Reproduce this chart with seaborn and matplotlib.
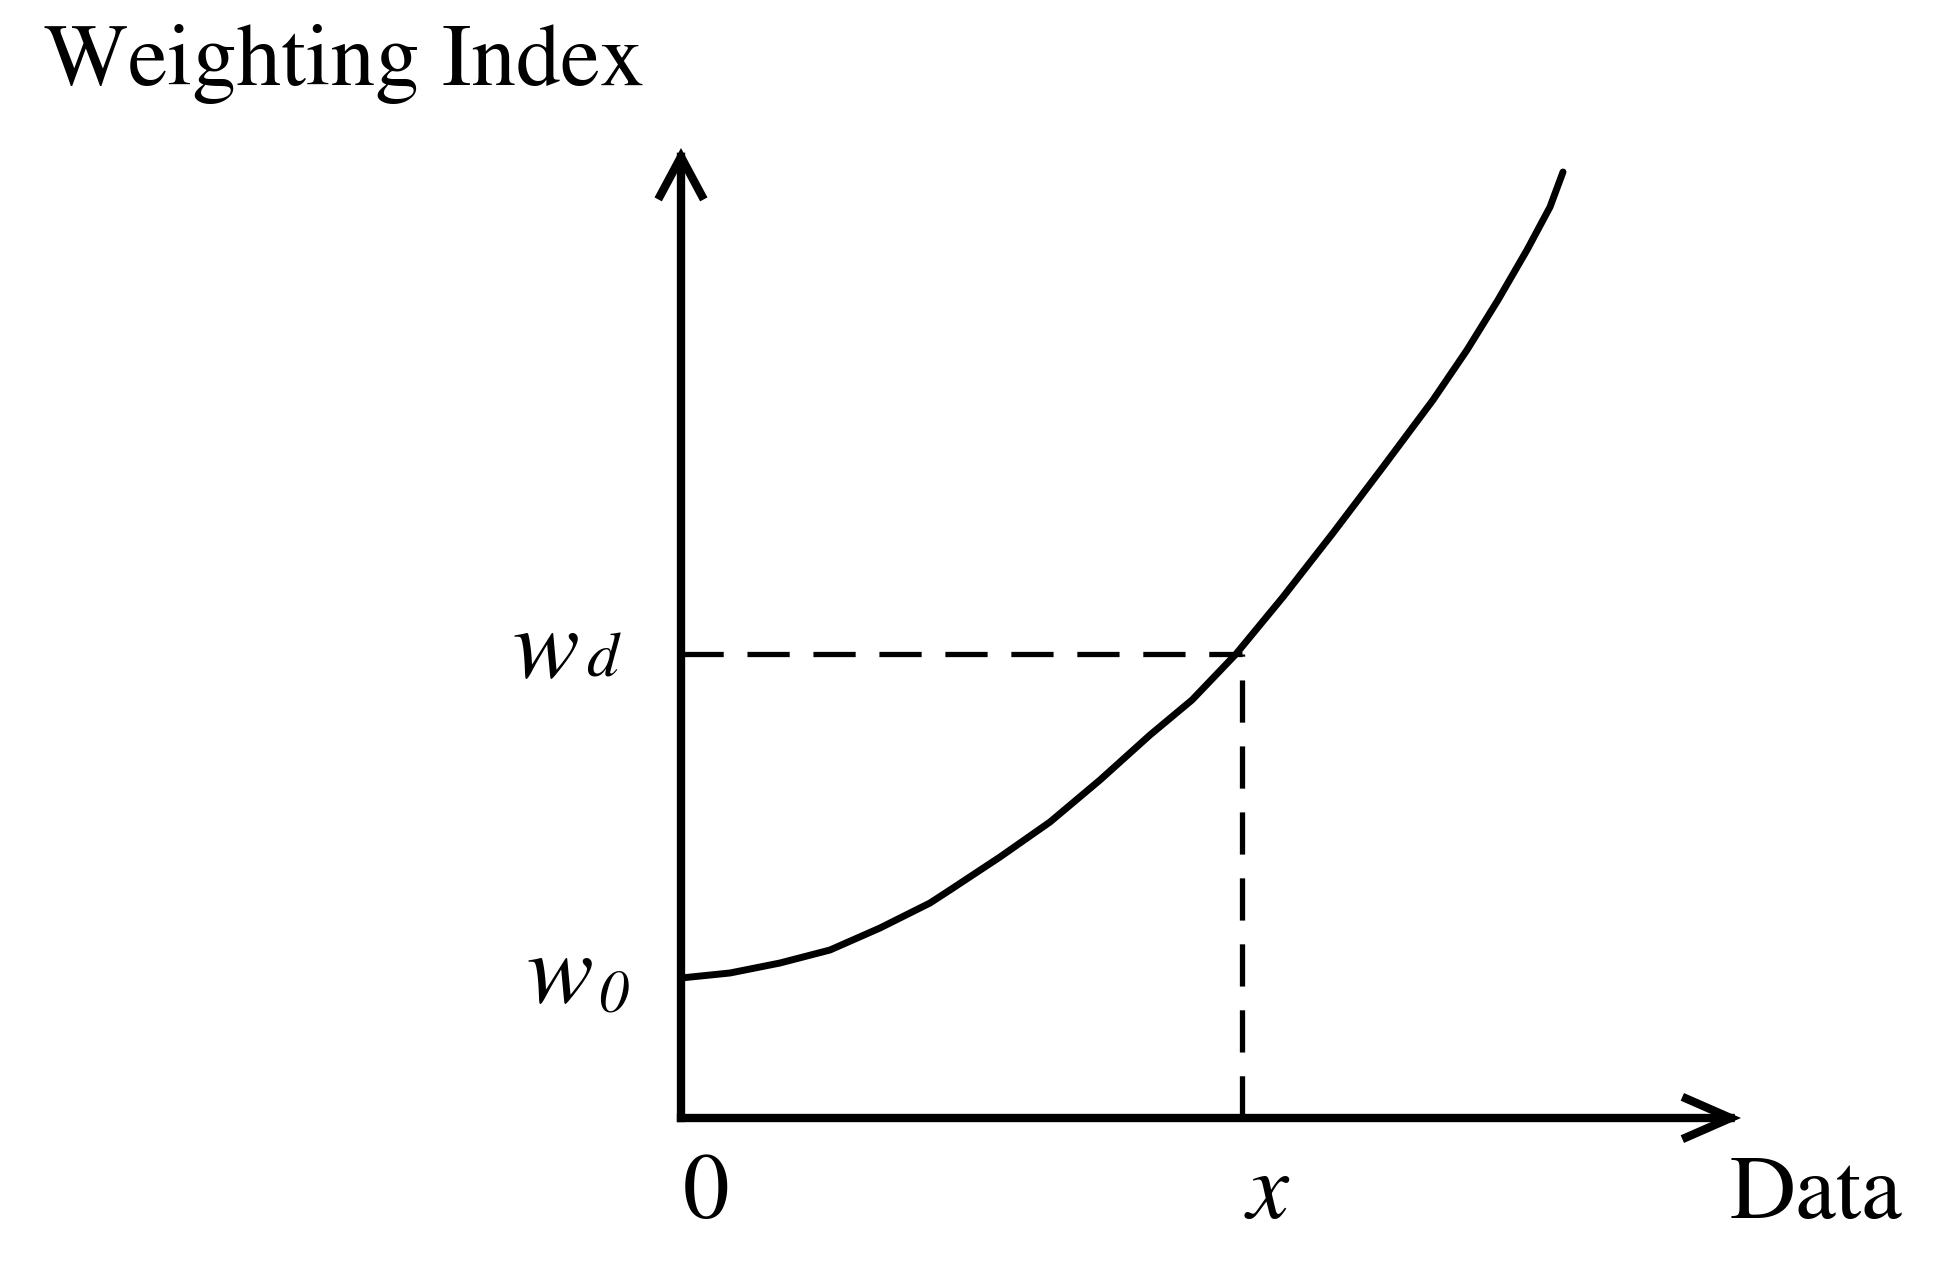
import matplotlib
matplotlib.use("Agg")
import numpy as np
import pandas as pd
import seaborn as sns
import matplotlib.pyplot as plt
from matplotlib.patches import FancyArrowPatch

# ---- data ----
data_x = [0.0, 0.49, 0.99, 1.49, 1.99, 2.49, 2.69, 3.19, 3.69, 4.19,
          4.69, 5.11, 5.55, 6.02, 6.52, 7.02, 7.52, 7.86, 8.17, 8.46,
          8.69, 8.82]
weight_index = [1.40, 1.45, 1.55, 1.68, 1.90, 2.15, 2.28, 2.61, 2.96, 3.38,
                3.83, 4.18, 4.64, 5.21, 5.85, 6.51, 7.18, 7.68, 8.18, 8.68,
                9.11, 9.46]
x_mark = 5.61
w_d_value = 4.64
w_0_value = 1.40
x_axis_end = 10.60
y_axis_end = 9.70

W, H = 1948, 1266
OX, OY = 681, 1118  # pixel position of the origin

sns.set_theme(style="white")
plt.rcParams["font.family"] = ["STIXGeneral", "DejaVu Serif"]
plt.rcParams["mathtext.fontset"] = "stix"
plt.rcParams["text.color"] = "black"

fig = plt.figure(figsize=(W / 100, H / 100), dpi=100)
ax = fig.add_axes([0, 0, 1, 1])
ax.set_xlim(-OX / 100, (W - OX) / 100)
ax.set_ylim(-(H - OY) / 100, OY / 100)
ax.axis("off")


def fxy(px, py):
    return px / W, 1 - py / H


df = pd.DataFrame({"Data": data_x, "Weighting Index": weight_index})
sns.lineplot(data=df, x="Data", y="Weighting Index", ax=ax, color="black",
             lw=5.0, estimator=None, sort=True, solid_capstyle="round",
             solid_joinstyle="round")

# dashed guides
ax.hlines(w_d_value, 0, x_mark, colors="black", lw=3.8,
          linestyles=(0, (8.0, 4.5)))
ax.vlines(x_mark, 0, w_d_value, colors="black", lw=3.8,
          linestyles=(0, (8.0, 4.5)))

# axes with open arrowheads
for end, hl, hw in [((0, y_axis_end), 28, 15), ((x_axis_end, 0), 32, 14)]:
    arr = FancyArrowPatch((0, 0), end,
                          arrowstyle=f"->,head_length={hl},head_width={hw}",
                          mutation_scale=1, lw=6.0, color="black",
                          shrinkA=0, shrinkB=0, capstyle="projecting",
                          joinstyle="miter")
    ax.add_patch(arr)

# texts
tk = dict(ha="left", va="baseline", color="black")
fig.text(*fxy(44, 85), "Weighting Index", fontsize=64, **tk)
fig.text(*fxy(512, 677), "w", fontsize=72, style="italic", **tk)
fig.text(*fxy(586, 677), "d", fontsize=46, style="italic", **tk)
fig.text(*fxy(527, 1002), "w", fontsize=72, style="italic", **tk)
fig.text(*fxy(598, 1012), "0", fontsize=43, style="italic", **tk)
fig.text(*fxy(683, 1218), "0", fontsize=67, **tk)
fig.text(*fxy(1247, 1218), "x", fontsize=68, style="italic", **tk)
fig.text(*fxy(1730, 1218), "Data", fontsize=66, **tk)

fig.savefig("out.png", dpi=100)
